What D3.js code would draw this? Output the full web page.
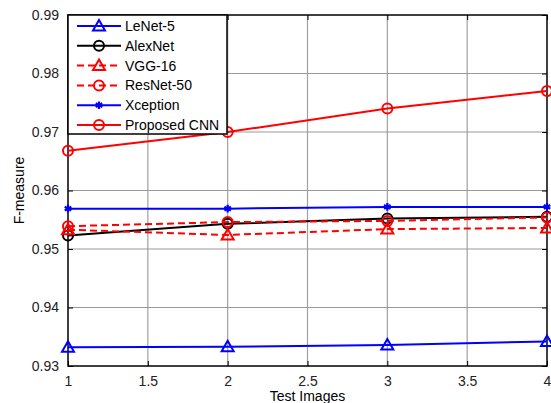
<!DOCTYPE html>
<html>
<head>
<meta charset="utf-8">
<script src="https://cdn.jsdelivr.net/npm/d3@7"></script>
<style>
    body { margin: 0; background: #fff; }
    svg { display: block; font-family: "Liberation Sans", Arial, sans-serif; }
    .tick text { font-size: 14px; fill: #222; }
    .legend text { font-size: 14px; fill: #000; }
</style>
</head>
<body>
<svg id="chart" width="551" height="403"></svg>
<script>
'use strict';

var testImages = [1, 2, 3, 4];
var xTicks = [1, 1.5, 2, 2.5, 3, 3.5, 4];
var yTicks = [0.93, 0.94, 0.95, 0.96, 0.97, 0.98, 0.99];

var lenet = [0.9332, 0.9333, 0.9336, 0.9342];
var alexnet = [0.9523, 0.9543, 0.9552, 0.9555];
var vgg16 = [0.9533, 0.9524, 0.9534, 0.9536];
var resnet50 = [0.9539, 0.9546, 0.9548, 0.9554];
var xception = [0.9569, 0.9569, 0.9572, 0.9572];
var proposed = [0.9668, 0.9700, 0.9740, 0.9770];

var seriesNames = ['LeNet-5', 'AlexNet', 'VGG-16', 'ResNet-50', 'Xception', 'Proposed CNN'];
var seriesValues = [lenet, alexnet, vgg16, resnet50, xception, proposed];

// style per series: colour, dash, marker
var styles = [
    { color: '#0000ff', dash: null, marker: 'triangle' },
    { color: '#000000', dash: null, marker: 'circle' },
    { color: '#ff0000', dash: '7,4', marker: 'triangle' },
    { color: '#ff0000', dash: '7,4', marker: 'circle' },
    { color: '#0000ff', dash: null, marker: 'star' },
    { color: '#ff0000', dash: null, marker: 'circle' }
];

var plotLeft = 68, plotRight = 547, plotTop = 15, plotBottom = 366;
var svg = d3.select('#chart');

var x = d3.scaleLinear().domain([1, 4]).range([plotLeft, plotRight]);
var y = d3.scaleLinear().domain([0.93, 0.99]).range([plotBottom, plotTop]);

// grid
var grid = svg.append('g').attr('class', 'grid');
grid.selectAll('.vg').data(xTicks.slice(1, -1)).enter().append('line')
    .attr('x1', function (d) { return x(d); }).attr('x2', function (d) { return x(d); })
    .attr('y1', plotTop).attr('y2', plotBottom)
    .attr('stroke', '#a0a0a0').attr('stroke-width', 1.2);
grid.selectAll('.hg').data(yTicks.slice(1, -1)).enter().append('line')
    .attr('y1', function (d) { return y(d); }).attr('y2', function (d) { return y(d); })
    .attr('x1', plotLeft).attr('x2', plotRight)
    .attr('stroke', '#999').attr('stroke-width', 1);

// axes (ticks inside, box on)
function fmtX(d) { return String(d); }
function fmtY(d) { return d.toFixed(2); }

svg.append('g').attr('transform', 'translate(0,' + plotBottom + ')')
    .call(d3.axisBottom(x).tickValues(xTicks).tickFormat(fmtX).tickSizeInner(-5).tickSizeOuter(0).tickPadding(10));
svg.append('g').attr('transform', 'translate(0,' + plotTop + ')')
    .call(d3.axisTop(x).tickValues(xTicks).tickFormat('').tickSizeInner(-5).tickSizeOuter(0));
svg.append('g').attr('transform', 'translate(' + plotLeft + ',0)')
    .call(d3.axisLeft(y).tickValues(yTicks).tickFormat(fmtY).tickSizeInner(-5).tickSizeOuter(0).tickPadding(9));
svg.append('g').attr('transform', 'translate(' + plotRight + ',0)')
    .call(d3.axisRight(y).tickValues(yTicks).tickFormat('').tickSizeInner(-5).tickSizeOuter(0));

svg.selectAll('.domain').remove();
svg.selectAll('.tick line').attr('stroke', '#000');

svg.append('rect').attr('x', plotLeft).attr('y', plotTop)
    .attr('width', plotRight - plotLeft).attr('height', plotBottom - plotTop)
    .attr('fill', 'none').attr('stroke', '#000').attr('stroke-width', 1.5);

// markers
function drawMarker(g, type, cx, cy, color) {
    if (type === 'circle') {
        g.append('circle').attr('cx', cx).attr('cy', cy).attr('r', 5)
            .attr('fill', 'none').attr('stroke', color).attr('stroke-width', 2);
    } else if (type === 'triangle') {
        g.append('path')
            .attr('d', ['M', cx, cy - 6, 'L', cx + 6, cy + 4.5, 'L', cx - 6, cy + 4.5, 'Z'].join(' '))
            .attr('fill', 'none').attr('stroke', color).attr('stroke-width', 2);
    } else {
        g.append('path').attr('d', d3.symbol().type(d3.symbolAsterisk).size(40)())
            .attr('transform', 'translate(' + cx + ',' + cy + ')')
            .attr('fill', 'none').attr('stroke', color).attr('stroke-width', 2.2);
    }
}

var line = d3.line()
    .x(function (d, i) { return x(testImages[i]); })
    .y(function (d) { return y(d); });

seriesValues.forEach(function (vals, k) {
    var st = styles[k];
    var g = svg.append('g').attr('class', 'series');
    g.append('path').datum(vals).attr('d', line)
        .attr('fill', 'none').attr('stroke', st.color).attr('stroke-width', 2)
        .attr('stroke-dasharray', st.dash);
    vals.forEach(function (v, i) {
        drawMarker(g, st.marker, x(testImages[i]), y(v), st.color);
    });
});

// legend
var legend = svg.append('g').attr('class', 'legend');
legend.append('rect').attr('x', plotLeft).attr('y', plotTop).attr('width', 159).attr('height', 119)
    .attr('fill', '#fff').attr('stroke', '#000').attr('stroke-width', 1.5);
seriesNames.forEach(function (name, k) {
    var st = styles[k];
    var ly = 26 + k * 19.8;
    legend.append('line').attr('x1', 77).attr('x2', 121).attr('y1', ly).attr('y2', ly)
        .attr('stroke', st.color).attr('stroke-width', 2).attr('stroke-dasharray', st.dash);
    drawMarker(legend, st.marker, 99, ly, st.color);
    legend.append('text').attr('x', 125).attr('y', ly + 5).text(name);
});

// axis labels
svg.append('text').attr('x', (plotLeft + plotRight) / 2).attr('y', 401)
    .attr('text-anchor', 'middle').attr('font-size', 14).text('Test Images');
svg.append('text').attr('transform', 'translate(24,' + ((plotTop + plotBottom) / 2) + ') rotate(-90)')
    .attr('text-anchor', 'middle').attr('font-size', 14).text('F-measure');
</script>
</body>
</html>
